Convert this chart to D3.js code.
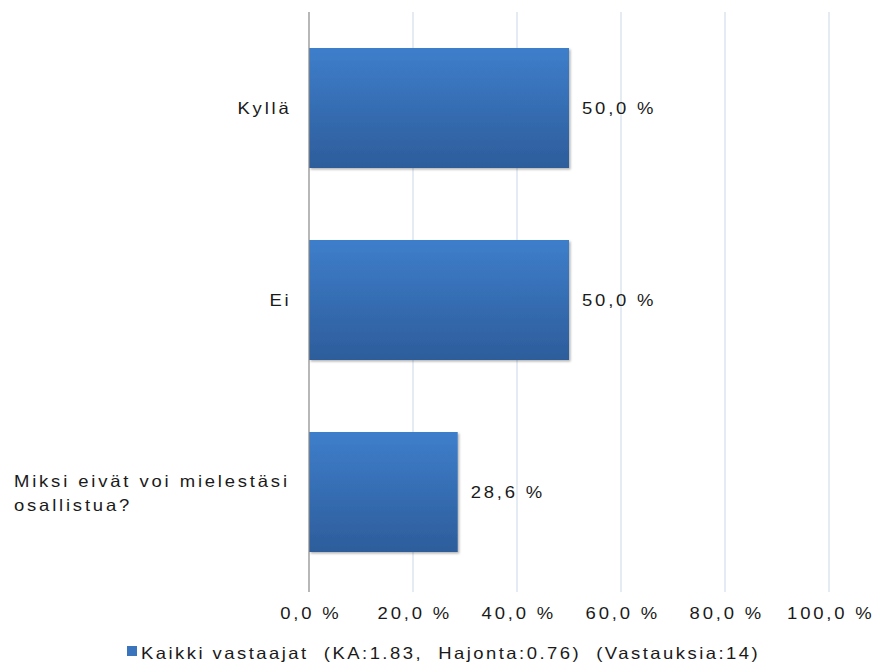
<!DOCTYPE html>
<html>
<head>
<meta charset="utf-8">
<script src="https://cdn.jsdelivr.net/npm/d3@7"></script>
<style>
  body { margin: 0; background: #fff; }
  text { font-family: "Liberation Sans", Arial, sans-serif; font-size: 16.5px; fill: #1a1a1a; letter-spacing: 2.5px; white-space: pre; }
</style>
</head>
<body>
<svg id="chart"></svg>
<script>
const categories = ['Kyllä', 'Ei', 'Miksi eivät voi mielestäsi|osallistua?'];
const values = [50.0, 50.0, 28.6];
const tickValues = [0, 20, 40, 60, 80, 100];
const legendLabel = 'Kaikki vastaajat  (KA:1.83,  Hajonta:0.76)  (Vastauksia:14)';

const width = 873;
const height = 664;
const margin = { top: 12, right: 44, bottom: 76, left: 309 };
const spacing = 2.5;
const stretch = 1.12; // the original text is drawn a little wide

const svg = d3.select('#chart')
  .attr('width', width)
  .attr('height', height);

const fmt = d => d.toFixed(1).replace('.', ',');

// text placed at (px, py), stretched horizontally
function addText(parent, px, py, str, anchor) {
  return parent.append('text')
    .attr('transform', `translate(${px},${py}) scale(${stretch},1)`)
    .attr('text-anchor', anchor || 'start')
    .text(str);
}

const defs = svg.append('defs');
const grad = defs.append('linearGradient')
  .attr('id', 'barGrad')
  .attr('x1', 0).attr('y1', 0).attr('x2', 0).attr('y2', 1);
grad.append('stop').attr('offset', '0%').attr('stop-color', '#3e7ecb');
grad.append('stop').attr('offset', '100%').attr('stop-color', '#2d5d9b');

const filter = defs.append('filter').attr('id', 'shadow')
  .attr('x', '-5%').attr('y', '-5%').attr('width', '115%').attr('height', '115%');
filter.append('feDropShadow')
  .attr('dx', 1.5).attr('dy', 1.5).attr('stdDeviation', 1.2)
  .attr('flood-color', '#000').attr('flood-opacity', 0.3);

const x = d3.scaleLinear()
  .domain([0, 100])
  .range([margin.left, width - margin.right]);

const y = d3.scaleBand()
  .domain(categories)
  .range([margin.top, height - margin.bottom])
  .paddingInner(0.375)
  .paddingOuter(0.1875);

// grid lines
svg.append('g')
  .selectAll('line')
  .data(tickValues.filter(d => d > 0))
  .enter()
  .append('line')
  .attr('x1', d => x(d))
  .attr('x2', d => x(d))
  .attr('y1', margin.top)
  .attr('y2', height - margin.bottom + 4)
  .attr('stroke', '#dde5ef')
  .attr('stroke-width', 1.5);

// bars
svg.append('g')
  .selectAll('rect')
  .data(values)
  .enter()
  .append('rect')
  .attr('x', x(0))
  .attr('y', (d, i) => y(categories[i]))
  .attr('width', d => x(d) - x(0))
  .attr('height', y.bandwidth())
  .attr('fill', 'url(#barGrad)')
  .attr('filter', 'url(#shadow)');

// axis line
svg.append('line')
  .attr('x1', x(0)).attr('x2', x(0))
  .attr('y1', margin.top)
  .attr('y2', height - margin.bottom + 4)
  .attr('stroke', '#888')
  .attr('stroke-width', 1.2);

// x tick labels
const xAxis = d3.axisBottom(x)
  .tickValues(tickValues)
  .tickSize(0)
  .tickFormat(d => fmt(d) + ' %');

svg.append('g')
  .attr('transform', `translate(0, ${height - margin.bottom})`)
  .call(xAxis)
  .call(g => g.select('.domain').remove())
  .selectAll('text')
  .attr('dy', null)
  .attr('y', 0)
  .attr('transform', `translate(${spacing / 2},31) scale(${stretch},1)`)
  .style('font-size', '16.5px')
  .style('font-family', '"Liberation Sans", Arial, sans-serif')
  .attr('fill', '#1a1a1a');

// category labels
categories.forEach((c, i) => {
  const lines = c.split('|');
  const cy = y(c) + y.bandwidth() / 2;
  if (lines.length === 1) {
    addText(svg, x(0) - 20 + spacing, cy + 6, c, 'end');
  } else {
    const first = addText(svg, 14, cy - 5, lines[0]);
    // spread words so the first line runs to the right edge
    const len = first.node().getComputedTextLength() - spacing;
    const gaps = lines[0].split(' ').length - 1;
    first.style('word-spacing', ((273 / stretch - len) / gaps) + 'px');
    addText(svg, 14, cy + 19, lines[1]);
  }
});

// value labels
values.forEach((d, i) => {
  addText(svg, x(d) + 13, y(categories[i]) + y.bandwidth() / 2 + 6, fmt(d) + ' %');
});

// legend
const legend = svg.append('g');
legend.append('rect')
  .attr('x', 127).attr('y', 646)
  .attr('width', 10).attr('height', 10)
  .attr('fill', '#3a74bd');
addText(legend, 141, 659, legendLabel)
  .style('letter-spacing', '2.2px');
</script>
</body>
</html>
